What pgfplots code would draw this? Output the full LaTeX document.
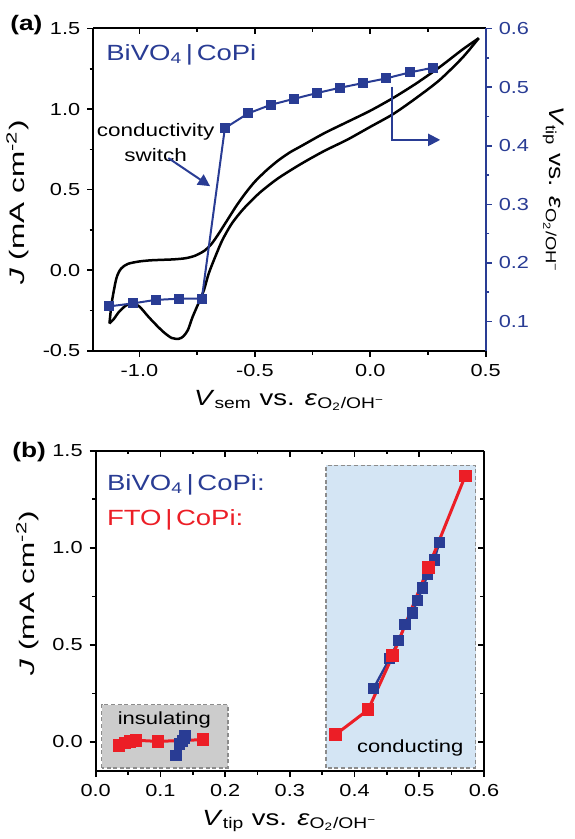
\documentclass[border=0pt]{standalone}
\usepackage{pgfplots}
\pgfplotsset{compat=1.18}
\usepackage{fontspec}
\setmainfont{Liberation Sans}[FakeStretch=1.25]
\newfontfamily\ylabfont{Liberation Sans}[FakeStretch=1.5]
\usetikzlibrary{arrows.meta}

\definecolor{tipblue}{RGB}{41,60,148}
\definecolor{ftored}{RGB}{236,30,38}
\definecolor{condfill}{RGB}{212,229,244}
\definecolor{insfill}{RGB}{204,204,204}
\definecolor{boxdash}{RGB}{140,140,140}

\newcommand{\refpot}{\textit{ε}\textsubscript{O\textsubscript{2}/OH\textsuperscript{−}}}

\pgfplotsset{
  panel/.style={
    scale only axis, anchor=north west,
    axis line style={line width=1pt},
    every tick/.style={black, line width=0.8pt},
    major tick length=3pt, minor tick length=1.8pt,
    minor tick num=1,
    tick label style={font=\fontsize{8.7}{10}\selectfont},
    xlabel style={font=\fontsize{11}{13}\selectfont},
    ylabel style={font=\ylabfont\fontsize{10.5}{12}\selectfont},
    /pgf/number format/fixed,
    /pgf/number format/fixed zerofill,
    /pgf/number format/precision=1,
    /pgf/number format/assume math mode=true,
  },
  pa/.style={panel, at={(46.65pt,-14.25pt)}, width=196.2pt, height=161.2pt,
    xmin=-1.2, xmax=0.5},
  pb/.style={panel, at={(47.85pt,-225.35pt)}, width=194.15pt, height=160.2pt,
    xmin=0, xmax=0.6, ymin=-0.15, ymax=1.5},
}

\begin{document}
\begin{tikzpicture}
\useasboundingbox (0,0) rectangle (287pt,-419.5pt);

% ---------------- panel (a) ----------------
\node[anchor=west, inner sep=0pt, font=\fontsize{10.5}{12}\selectfont\bfseries] at (5pt,-12.5pt) {(a)};

\begin{axis}[pa, ymin=-0.5, ymax=1.5,
  axis x line*=bottom, axis y line*=left, tick align=outside,
  xtick={-1,-0.5,0,0.5}, ytick={-0.5,0,0.5,1,1.5},
  xlabel={\textit{V}\textsubscript{sem} vs. \refpot},
  ylabel={\textit{J} (mA cm\textsuperscript{-2})},
  every axis y label/.append style={at={(ticklabel cs:0.46)}},
]
% cyclic voltammogram, forward scan
\addplot[black, line width=1.25pt, smooth, tension=0.45] coordinates {
  (-1.13,-0.33) (-1.12,-0.20) (-1.10,-0.05) (-1.08,0.01) (-1.05,0.04)
  (-1.00,0.055) (-0.95,0.062) (-0.90,0.065) (-0.85,0.068) (-0.80,0.075)
  (-0.76,0.09) (-0.72,0.12) (-0.69,0.16) (-0.66,0.22) (-0.62,0.31)
  (-0.58,0.40) (-0.54,0.48) (-0.50,0.55) (-0.45,0.62) (-0.40,0.68)
  (-0.35,0.73) (-0.30,0.77) (-0.20,0.85) (-0.10,0.92) (0.00,0.99)
  (0.10,1.07) (0.20,1.16) (0.30,1.26) (0.40,1.37) (0.47,1.44)
};
% reverse scan
\addplot[black, line width=1.25pt, smooth, tension=0.45] coordinates {
  (0.47,1.44) (0.40,1.32) (0.30,1.18) (0.20,1.07) (0.10,0.97)
  (0.00,0.89) (-0.10,0.81) (-0.20,0.74) (-0.30,0.66) (-0.40,0.57)
  (-0.48,0.48) (-0.55,0.38) (-0.60,0.29) (-0.64,0.19) (-0.67,0.09)
  (-0.70,-0.02) (-0.72,-0.12) (-0.74,-0.19) (-0.77,-0.29) (-0.79,-0.37)
  (-0.81,-0.41) (-0.83,-0.425) (-0.86,-0.42) (-0.89,-0.39) (-0.92,-0.35)
  (-0.96,-0.29) (-1.00,-0.225) (-1.03,-0.205) (-1.06,-0.22) (-1.09,-0.26)
  (-1.11,-0.30) (-1.13,-0.33)
};
\node[align=center, inner sep=0pt, font=\fontsize{9}{12.5}\selectfont] at (axis cs:-0.93,0.79) {conductivity\\switch};
\end{axis}

% top ticks pointing in
\begin{axis}[pa, ymin=-0.5, ymax=1.5,
  axis x line*=top, axis y line=none, tick align=inside,
  xtick={-1,-0.5,0,0.5}, xticklabels={},
]
\end{axis}

% right axis: tip potential
\begin{axis}[pa, ymin=0.05, ymax=0.6,
  axis y line*=right, axis x line=none, tick align=outside,
  ytick={0.1,0.2,0.3,0.4,0.5,0.6},
  y axis line style={tipblue, line width=1pt},
  every tick/.style={tipblue, line width=0.8pt},
  yticklabel style={tipblue},
  ylabel={\textit{V}\textsubscript{tip} vs. \refpot},
  ylabel style={rotate=180, font=\fontsize{10.5}{12}\selectfont},
]
\addplot[tipblue, line width=1pt, mark=square*, mark size=2pt] coordinates {
  (-1.13,0.126) (-1.03,0.131) (-0.93,0.137) (-0.83,0.139) (-0.73,0.139)
  (-0.63,0.430) (-0.53,0.455) (-0.43,0.470) (-0.33,0.480) (-0.23,0.490)
  (-0.13,0.499) (-0.03,0.507) (0.07,0.515) (0.17,0.525) (0.27,0.533)
};
\node[anchor=west, inner sep=0pt, tipblue, font=\fontsize{11}{14}\selectfont] at (axis cs:-1.145,0.555) {BiVO\textsubscript{4}\,|\,CoPi};
\draw[tipblue, line width=1pt, -{Triangle[length=6pt,width=6pt]}] (axis cs:-0.875,0.379) -- (axis cs:-0.694,0.331);
\draw[tipblue, line width=1pt, -{Triangle[length=6pt,width=6pt]}] (axis cs:0.093,0.501) -- (axis cs:0.093,0.410) -- (axis cs:0.303,0.410);
\end{axis}

% ---------------- panel (b) ----------------
\node[anchor=west, inner sep=0pt, font=\fontsize{10.5}{12}\selectfont\bfseries] at (6pt,-226pt) {(b)};

\begin{axis}[pb,
  axis x line*=bottom, axis y line*=left, tick align=outside,
  xtick={0,0.1,0.2,0.3,0.4,0.5,0.6}, ytick={0,0.5,1,1.5},
  xlabel={\textit{V}\textsubscript{tip} vs. \refpot},
  ylabel={\textit{J} (mA cm\textsuperscript{-2})},
  every axis y label/.append style={at={(ticklabel cs:0.555)}},
]
\draw[boxdash, line width=0.9pt, dash pattern=on 2pt off 1.3pt, fill=insfill]
  (axis cs:0.009,-0.132) rectangle (axis cs:0.204,0.193);
\draw[boxdash, line width=0.9pt, dash pattern=on 2pt off 1.3pt, fill=condfill]
  (axis cs:0.356,-0.132) rectangle (axis cs:0.587,1.424);
% BiVO4|CoPi
\addplot[tipblue, line width=1.2pt, mark=square*, mark size=2.2pt] coordinates {
  (0.124,-0.068) (0.130,-0.010) (0.134,0.005) (0.137,0.020) (0.138,0.035)
};
\addplot[tipblue, line width=1.2pt, mark=square*, mark size=2.2pt] coordinates {
  (0.429,0.274) (0.454,0.428) (0.468,0.522) (0.478,0.603) (0.489,0.664)
  (0.497,0.728) (0.505,0.793) (0.513,0.861) (0.523,0.937) (0.531,1.027)
};
% FTO|CoPi
\addplot[ftored, line width=1.5pt, mark=square*, mark size=2.4pt] coordinates {
  (0.036,-0.017) (0.045,-0.005) (0.053,0.003) (0.062,0.009) (0.096,0.003) (0.166,0.012)
};
\addplot[ftored, line width=1.5pt, mark=square*, mark size=2.4pt] coordinates {
  (0.371,0.039) (0.421,0.166) (0.459,0.445) (0.514,0.899) (0.571,1.370)
};
\node[font=\fontsize{8.8}{12}\selectfont] at (axis cs:0.106,0.115) {insulating};
\node[font=\fontsize{8.8}{12}\selectfont] at (axis cs:0.486,-0.03) {conducting};
\node[anchor=west, inner sep=0pt, tipblue, font=\fontsize{11}{14}\selectfont] at (axis cs:0.017,1.323) {BiVO\textsubscript{4}\,|\,CoPi:};
\node[anchor=west, inner sep=0pt, ftored, font=\fontsize{11}{14}\selectfont] at (axis cs:0.017,1.143) {FTO\,|\,CoPi:};
\end{axis}

\begin{axis}[pb,
  axis x line*=top, axis y line*=right, tick align=inside,
  xtick={0,0.1,0.2,0.3,0.4,0.5,0.6}, ytick={0,0.5,1,1.5},
  xticklabels={}, yticklabels={},
]
\end{axis}
\end{tikzpicture}
\end{document}
